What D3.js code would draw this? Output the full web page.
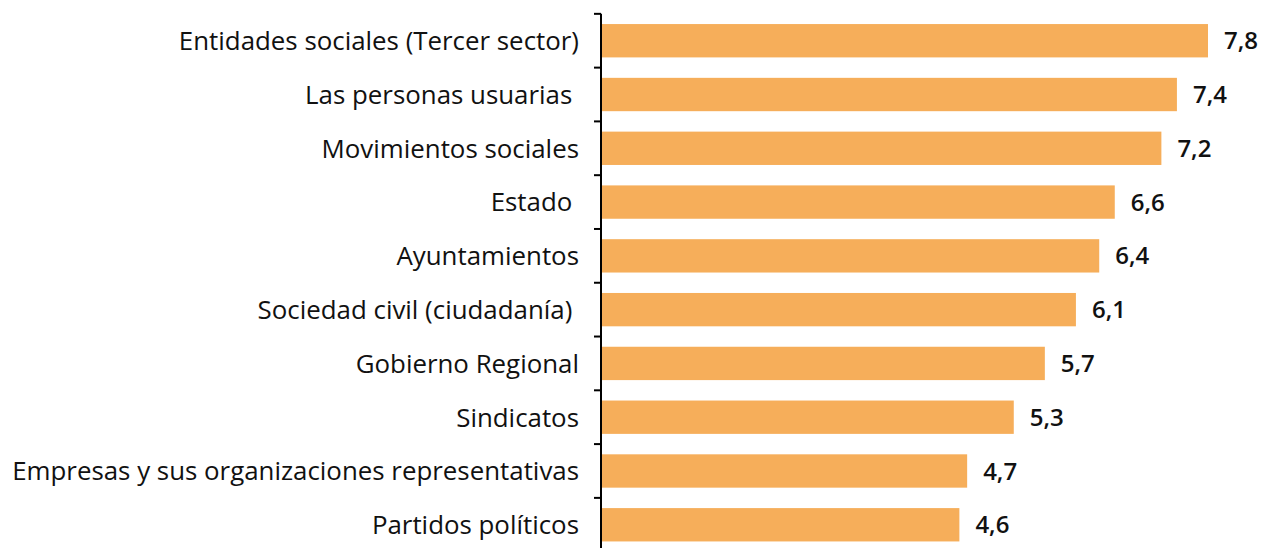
<!DOCTYPE html>
<html>
<head>
<meta charset="utf-8">
<script src="https://cdn.jsdelivr.net/npm/d3@7"></script>
<style>
  body { margin: 0; background: #fff; }
  svg { display: block; }
  .cat { font-family: "Open Sans", sans-serif; fill: #111; white-space: pre; }
  .val { font-family: "Open Sans", sans-serif; font-weight: 600; fill: #111; }
</style>
</head>
<body>
<svg id="chart" width="1262" height="548"></svg>
<script>
// categories, top to bottom (trailing spaces as in the source labels)
var categories = [
    "Entidades sociales (Tercer sector)",
    "Las personas usuarias ",
    "Movimientos sociales",
    "Estado ",
    "Ayuntamientos",
    "Sociedad civil (ciudadanía) ",
    "Gobierno Regional",
    "Sindicatos",
    "Empresas y sus organizaciones representativas",
    "Partidos políticos"
];
var values = [7.8, 7.4, 7.2, 6.6, 6.4, 6.1, 5.7, 5.3, 4.7, 4.6];
var valueLabels = ["7,8", "7,4", "7,2", "6,6", "6,4", "6,1", "5,7", "5,3", "4,7", "4,6"];

var data = categories.map(function(c, i) {
    return { name: c, value: values[i], label: valueLabels[i] };
});

var svg = d3.select("#chart");

var axisX = 601;

var x = d3.scaleLinear()
    .domain([0, 7.8])
    .range([axisX + 1, 1208]);

var y = d3.scaleBand()
    .domain(categories)
    .range([13.3, 552.2])
    .paddingInner(0.38)
    .paddingOuter(0.2);

// bars
svg.selectAll("rect.bar")
    .data(data)
    .enter().append("rect")
    .attr("class", "bar")
    .attr("x", x(0))
    .attr("y", function(d) { return y(d.name); })
    .attr("width", function(d) { return x(d.value) - x(0); })
    .attr("height", y.bandwidth())
    .attr("fill", "#F6AE5A");

// value labels
svg.selectAll("text.val")
    .data(data)
    .enter().append("text")
    .attr("class", "val")
    .attr("x", function(d) { return x(d.value) + 16; })
    .attr("y", function(d) { return y(d.name) + y.bandwidth() / 2; })
    .attr("dy", "0.36em")
    .style("font-size", "24px")
    .text(function(d) { return d.label; });

// category labels
var cats = svg.selectAll("text.cat")
    .data(data)
    .enter().append("text")
    .attr("class", "cat")
    .attr("x", 579)
    .attr("y", function(d) { return y(d.name) + y.bandwidth() / 2; })
    .attr("dy", "0.36em")
    .attr("text-anchor", "end")
    .style("font-size", "20px")
    .text(function(d) { return d.name; });

// fit the longest label to the reference width
var longest = 0;
cats.each(function() { longest = Math.max(longest, this.getComputedTextLength()); });
var fs = 20 * 567 / longest;
cats.style("font-size", fs.toFixed(2) + "px");

// axis line and ticks at band boundaries
var half = y.step() * y.paddingInner() / 2;
svg.append("line")
    .attr("x1", axisX).attr("x2", axisX)
    .attr("y1", y(categories[0]) - half)
    .attr("y2", 548)
    .attr("stroke", "#000")
    .attr("stroke-width", 2);

svg.selectAll("line.tick")
    .data(categories)
    .enter().append("line")
    .attr("class", "tick")
    .attr("x1", axisX - 7).attr("x2", axisX)
    .attr("y1", function(d) { return y(d) - half; })
    .attr("y2", function(d) { return y(d) - half; })
    .attr("stroke", "#000")
    .attr("stroke-width", 2);
</script>
</body>
</html>
